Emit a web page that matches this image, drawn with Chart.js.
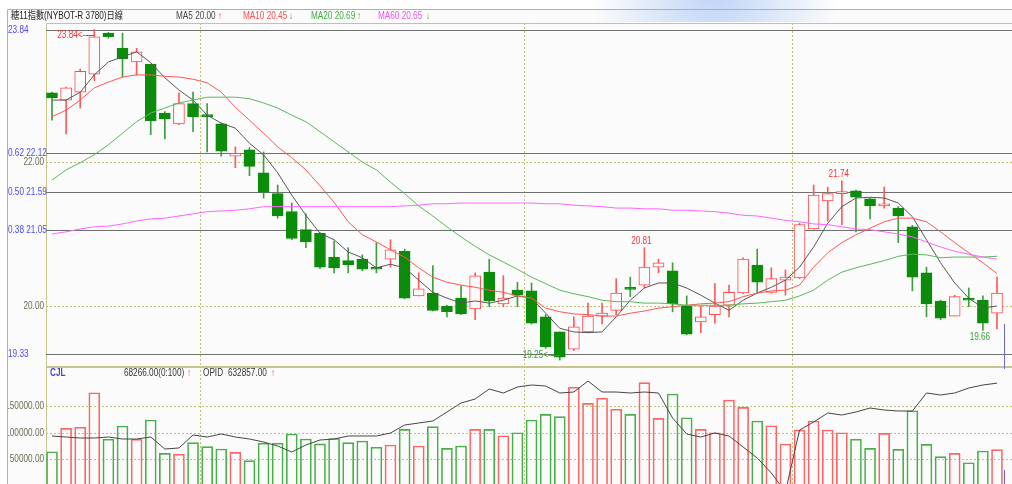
<!DOCTYPE html>
<html>
<head>
<meta charset="utf-8">
<script src="https://cdn.jsdelivr.net/npm/chart.js@4.4.1/dist/chart.umd.min.js"></script>
<style>
  html, body { margin: 0; padding: 0; background: #fff; }
  #wrap { position: relative; width: 1012px; height: 484px; overflow: hidden; background: #fff;
    font-family: "Liberation Sans", "Noto Sans CJK TC", sans-serif; }
  canvas { position: absolute; left: 0; }
  #price { top: 0; }
  #vol { top: 366px; }
  .t { position: absolute; z-index: 2; font-size: 10px; line-height: 12px; white-space: nowrap; color: #333;
    transform: scaleX(0.82); transform-origin: 0 50%; }
  .up { color: #f03030; }
  .dn { color: #4a9a4a; }
</style>
</head>
<body>
<div id="wrap">
  <canvas id="price" width="1012" height="366"></canvas>
  <canvas id="vol" width="1012" height="120"></canvas>

  <div class="t" id="title" style="left:11px;top:10px;color:#222"></div>
  <div class="t" id="hMa5" style="left:176px;top:10px;color:#444"></div>
  <div class="t up" style="left:218px;top:10px">↑</div>
  <div class="t" id="hMa10" style="left:243px;top:10px;color:#ff4c4c"></div>
  <div class="t dn" style="left:289px;top:10px">↓</div>
  <div class="t" id="hMa20" style="left:311px;top:10px;color:#3eae3e"></div>
  <div class="t up" style="left:357px;top:10px">↑</div>
  <div class="t" id="hMa60" style="left:378px;top:10px;color:#f050f0"></div>
  <div class="t dn" style="left:426px;top:10px">↓</div>

  <div class="t" style="left:50px;top:367px;color:#4848c8;font-weight:bold">CJL</div>
  <div class="t" id="hVol" style="left:124px;top:367px"></div>
  <div class="t up" style="left:187px;top:367px">↑</div>
  <div class="t" style="left:203px;top:367px">OPID</div>
  <div class="t" id="hOi" style="left:228px;top:367px"></div>
  <div class="t up" style="left:271px;top:367px">↑</div>
</div>
<script>
// daily bars, sugar No.11
const open = [22.96,22.86,22.97,23.22,23.79,23.58,23.39,23.36,22.68,22.53,
  22.81,22.65,22.53,22.08,22.17,21.85,21.56,21.31,21.06,21.01,
  20.68,20.63,20.65,20.53,20.65,20.76,20.14,20.18,20.00,20.11,
  19.96,20.47,20.03,20.22,20.21,19.85,19.64,19.40,19.64,19.86,
  19.94,20.24,20.29,20.54,20.49,20.00,19.78,19.88,20.01,20.18,
  20.57,20.19,20.36,20.39,21.07,21.46,21.56,21.60,21.49,21.39,
  21.36,21.10,20.46,20.07,19.86,20.11,20.08,19.90];
const high = [22.97,23.04,23.29,23.84,23.80,23.79,23.58,23.36,22.70,22.96,
  22.97,22.81,22.54,22.21,22.20,22.14,21.68,21.43,21.28,21.02,
  20.90,20.81,20.71,20.88,20.92,20.79,20.46,20.56,20.01,20.28,
  20.46,20.65,20.42,20.33,20.32,19.88,19.64,19.85,20.04,20.04,
  20.38,20.40,20.81,20.65,20.60,20.14,20.00,20.31,20.29,20.67,
  20.79,20.53,20.50,21.15,21.68,21.65,21.74,21.61,21.50,21.65,
  21.38,21.12,20.54,20.08,20.15,20.25,20.14,20.40];
const low = [22.58,22.39,22.75,23.13,23.72,23.18,23.21,22.38,22.32,22.52,
  22.42,22.14,22.08,21.92,21.81,21.50,21.22,20.92,20.81,20.52,
  20.46,20.46,20.49,20.46,20.54,20.10,20.14,19.93,19.85,19.88,
  19.81,19.99,19.99,19.99,19.75,19.41,19.25,19.38,19.63,19.75,
  19.88,20.13,20.25,20.46,19.92,19.60,19.63,19.76,19.85,20.17,
  20.18,20.18,20.15,20.38,21.07,21.18,21.13,21.03,21.21,21.36,
  20.88,20.21,19.85,19.81,19.86,19.99,19.66,19.68];
const close = [22.89,23.03,23.26,23.74,23.74,23.43,23.53,22.57,22.60,22.81,
  22.63,22.63,22.15,22.12,21.94,21.58,21.25,20.94,20.89,20.54,
  20.53,20.57,20.51,20.51,20.78,20.11,20.24,19.94,19.92,19.89,
  20.42,20.07,20.11,20.15,19.76,19.43,19.29,19.71,19.86,19.90,
  20.18,20.23,20.54,20.60,20.03,19.61,19.85,20.00,20.19,20.65,
  20.33,20.38,20.40,21.13,21.54,21.56,21.58,21.51,21.39,21.42,
  21.25,20.40,20.03,19.83,20.13,20.08,19.76,20.18];

const ma5 = [22.86,22.86,22.97,23.21,23.39,23.46,23.53,23.38,23.17,23.00,
  22.86,22.65,22.54,22.47,22.26,22.10,21.85,21.54,21.26,21.01,
  20.92,20.75,20.67,20.53,20.58,20.53,20.36,20.19,20.11,20.04,
  20.07,20.04,20.08,20.14,20.11,19.90,19.69,19.64,19.63,19.64,
  19.85,20.08,20.25,20.32,20.32,20.25,20.15,20.04,19.94,20.08,
  20.18,20.26,20.36,20.54,20.82,21.15,21.38,21.50,21.51,21.50,
  21.43,21.24,20.92,20.60,20.32,20.11,19.97,20.00];
const ma10 = [22.63,22.72,22.86,23.03,23.11,23.18,23.21,23.21,23.19,23.18,
  23.15,23.10,22.97,22.76,22.58,22.40,22.21,22.06,21.89,21.67,
  21.44,21.17,20.99,20.89,20.78,20.68,20.53,20.40,20.33,20.29,
  20.26,20.22,20.19,20.14,20.11,19.97,19.92,19.89,19.88,19.86,
  19.86,19.90,19.93,19.97,19.99,20.01,20.03,20.04,20.06,20.13,
  20.18,20.21,20.22,20.29,20.54,20.74,20.88,20.99,21.08,21.17,
  21.22,21.22,21.17,21.03,20.88,20.74,20.60,20.45];
const ma20 = [21.75,21.89,21.99,22.10,22.24,22.40,22.56,22.68,22.75,22.82,
  22.86,22.90,22.90,22.90,22.88,22.82,22.75,22.65,22.56,22.42,
  22.28,22.14,22.00,21.89,21.72,21.56,21.39,21.25,21.10,20.96,
  20.83,20.71,20.61,20.51,20.40,20.31,20.22,20.17,20.13,20.08,
  20.06,20.06,20.04,20.04,20.03,20.01,20.01,20.01,20.01,20.03,
  20.04,20.06,20.08,20.14,20.22,20.36,20.47,20.53,20.58,20.63,
  20.69,20.72,20.71,20.67,20.68,20.68,20.68,20.69];
const ma60 = [21.00,21.03,21.07,21.10,21.11,21.14,21.18,21.21,21.22,21.25,
  21.28,21.31,21.32,21.33,21.35,21.38,21.38,21.38,21.38,21.38,
  21.38,21.38,21.38,21.38,21.38,21.39,21.40,21.42,21.42,21.43,
  21.43,21.43,21.43,21.43,21.43,21.42,21.42,21.40,21.39,21.38,
  21.36,21.36,21.35,21.35,21.33,21.33,21.32,21.31,21.29,21.26,
  21.25,21.22,21.19,21.17,21.14,21.13,21.10,21.07,21.06,21.03,
  21.00,20.96,20.89,20.82,20.76,20.72,20.68,20.65];

const volume = [64200,108000,110000,174700,87500,112400,87500,123600,61200,59400,
  81100,73600,69300,63100,47400,80000,80000,97400,88000,79000,
  89000,81100,84300,72500,76800,106200,74900,111100,70600,74900,
  106200,106200,94200,99800,123600,134300,129800,184900,154900,164300,
  143700,134300,193500,126800,172300,127900,106200,99800,161100,147400,
  121700,112900,78700,104900,121700,104900,99800,87500,70600,98700,
  68700,141000,78100,54900,61200,43600,65600,68266];
const openInterest = [580000,579000,578000,578000,579000,577000,577000,579000,567000,568000,
  581000,579000,582000,579000,577000,574000,570000,564000,571000,576000,
  577000,580000,580000,580000,583000,591000,593000,595000,604000,613000,
  617000,627000,623000,629000,631000,630000,623000,624000,635000,624000,
  624000,623000,624000,623000,598000,582000,579000,583000,580000,569000,
  558000,543000,524000,586000,594000,603000,601000,604000,608000,606000,
  605000,605000,623000,621000,623000,628000,631000,632857];

const fibLevels = [23.84, 22.12, 21.59, 21.05, 19.33];
const fibRatios = ['', '0.62', '0.50', '0.38', ''];
const priceTicks = [22, 20];
const volumeTicks = [50000, 100000, 150000];
const monthBreaks = [11.5, 34.5, 53.5];

const TITLE = '糖11指數(NYBOT-R 3780)日線';

const RED = '#ff4848';
const GREEN = '#0b8c0b';
const OLIVE = '#c6c68c';
const DOT = '#c0c07a';
const LABEL_FONT = '10px "Liberation Sans", sans-serif';
const NARROW = 0.82;

const n = close.length;
const idx = [...Array(n).keys()];
const isUp = (i) => close[i] >= open[i];
const pts = (arr) => arr.map((v, i) => ({ x: i + 1, y: v }));

document.getElementById('title').textContent = TITLE;
document.getElementById('hMa5').textContent = 'MA5 ' + ma5[n - 1].toFixed(2);
document.getElementById('hMa10').textContent = 'MA10 ' + ma10[n - 1].toFixed(2);
document.getElementById('hMa20').textContent = 'MA20 ' + ma20[n - 1].toFixed(2);
document.getElementById('hMa60').textContent = 'MA60 ' + ma60[n - 1].toFixed(2);
document.getElementById('hVol').textContent = volume[n - 1].toFixed(2) + '(0:100)';
document.getElementById('hOi').textContent = openInterest[n - 1].toFixed(2);

const X_SCALE = { type: 'linear', display: false, offset: false, min: 0.5746, max: 69.0635 };

function dotted(ctx, x1, y1, x2, y2) {
	ctx.save();
	ctx.strokeStyle = DOT;
	ctx.lineWidth = 1;
	ctx.setLineDash([2, 2]);
	ctx.beginPath();
	ctx.moveTo(x1, y1);
	ctx.lineTo(x2, y2);
	ctx.stroke();
	ctx.restore();
}

// condensed label, like the terminal's narrow font
function narrowText(ctx, text, x, y, align) {
	ctx.save();
	ctx.translate(x, y);
	ctx.scale(NARROW, 1);
	ctx.textAlign = align;
	ctx.textBaseline = "middle";
	ctx.fillText(text, 0, 0);
	ctx.restore();
}

function panelBackground(chart, topY) {
	const { ctx, chartArea: a, scales: { x } } = chart;
	const W = chart.width, H = chart.height;
	ctx.fillStyle = '#ffffff';
	ctx.fillRect(0, 0, W, H);
	ctx.fillStyle = '#fbfbfb';
	ctx.fillRect(8, topY, W - 8, H - topY);
	ctx.strokeStyle = '#a9aec2';
	ctx.lineWidth = 1;
	ctx.beginPath();
	ctx.moveTo(7.5, H);
	ctx.lineTo(7.5, topY);
	ctx.stroke();
	monthBreaks.forEach((v) => {
		const px = Math.round(x.getPixelForValue(v)) + 0.5;
		dotted(ctx, px, a.top, px, a.bottom);
	});
}

// price panel: frame, grid, fibonacci levels, labels
const pricePanel = {
	id: "pricePanel",
	beforeDatasetsDraw(chart) {
		const { ctx, chartArea: a, scales: { y } } = chart;
		ctx.save();
		panelBackground(chart, 10);

		// faint blue logo blob at the top
		const g = ctx.createRadialGradient(715, -10, 10, 715, -10, 125);
		g.addColorStop(0, "rgba(185,208,245,0.85)");
		g.addColorStop(1, "rgba(185,208,245,0)");
		ctx.fillStyle = g;
		ctx.fillRect(560, 0, 320, 22);

		ctx.strokeStyle = "#a9aec2";
		ctx.beginPath();
		ctx.moveTo(7.5, 9.5);
		ctx.lineTo(chart.width, 9.5);
		ctx.stroke();

		ctx.strokeStyle = OLIVE;
		ctx.beginPath();
		ctx.moveTo(a.left + 0.5, a.bottom);
		ctx.lineTo(a.left + 0.5, a.top + 0.5);
		ctx.lineTo(a.right, a.top + 0.5);
		ctx.stroke();

		priceTicks.forEach((v) => {
			const py = Math.round(y.getPixelForValue(v)) + 0.5;
			dotted(ctx, a.left, py, a.right, py);
		});

		ctx.strokeStyle = "#707070";
		ctx.lineWidth = 1;
		fibLevels.forEach((v) => {
			const py = Math.round(y.getPixelForValue(v)) + 0.5;
			ctx.beginPath();
			ctx.moveTo(a.left, py);
			ctx.lineTo(a.right, py);
			ctx.stroke();
		});

		ctx.font = LABEL_FONT;
		ctx.fillStyle = "#4b4bf0";
		fibLevels.forEach((v, k) => {
			const label = (fibRatios[k] ? fibRatios[k] + " " : "") + v.toFixed(2);
			narrowText(ctx, label, 8, Math.round(y.getPixelForValue(v)), "left");
		});
		ctx.fillStyle = "#6a6a55";
		priceTicks.forEach((v) => {
			narrowText(ctx, v.toFixed(2), 44, Math.round(y.getPixelForValue(v)), "right");
		});
		ctx.restore();
	},
	afterDatasetsDraw(chart) {
		const { ctx, chartArea: a, scales: { x, y } } = chart;
		ctx.save();
		ctx.font = LABEL_FONT;

		// highest high / lowest low with a pointer
		const hiIdx = high.indexOf(Math.max(...high));
		const loIdx = low.indexOf(Math.min(...low));
		[
			{ i: hiIdx, v: high[hiIdx], dy: 5, color: "#ff3030" },
			{ i: loIdx, v: low[loIdx], dy: -5, color: "#3a9a3a" },
		].forEach((m) => {
			const px = x.getPixelForValue(m.i + 1);
			const py = Math.round(y.getPixelForValue(m.v)) + m.dy;
			ctx.fillStyle = m.color;
			ctx.strokeStyle = m.color;
			narrowText(ctx, m.v.toFixed(2) + "<-", px - 9, py, "right");
			ctx.beginPath();
			ctx.moveTo(px - 9, py + 0.5);
			ctx.lineTo(px, py + 0.5);
			ctx.stroke();
		});

		// local turning points
		[
			{ i: 42, v: high[42], dy: -7, color: "#ff3030" },
			{ i: 56, v: high[56], dy: -7, color: "#ff3030" },
			{ i: 66, v: low[66], dy: 7, color: "#3a9a3a" },
		].forEach((m) => {
			ctx.fillStyle = m.color;
			narrowText(ctx, m.v.toFixed(2), x.getPixelForValue(m.i + 1) - 3, Math.round(y.getPixelForValue(m.v)) + m.dy, "center");
		});

		// cursor
		const cx = Math.round(x.getPixelForValue(n + 0.5)) + 0.5;
		ctx.strokeStyle = "#6868d8";
		ctx.beginPath();
		ctx.moveTo(cx, y.getPixelForValue(19.75));
		ctx.lineTo(cx, a.bottom);
		ctx.stroke();
		ctx.restore();
	},
};

// volume panel: frame, grid, labels
const volumePanel = {
	id: "volumePanel",
	beforeDatasetsDraw(chart) {
		const { ctx, chartArea: a, scales: { y } } = chart;
		ctx.save();
		panelBackground(chart, 0);
		ctx.strokeStyle = OLIVE;
		ctx.lineWidth = 2;
		ctx.beginPath();
		ctx.moveTo(a.left, 1);
		ctx.lineTo(a.right, 1);
		ctx.stroke();
		ctx.lineWidth = 1;
		ctx.beginPath();
		ctx.moveTo(a.left + 0.5, 0);
		ctx.lineTo(a.left + 0.5, a.bottom);
		ctx.stroke();

		ctx.font = LABEL_FONT;
		ctx.fillStyle = "#6a6a55";
		volumeTicks.forEach((v) => {
			const py = Math.round(y.getPixelForValue(v)) + 0.5;
			dotted(ctx, a.left, py, a.right, py);
			narrowText(ctx, v.toFixed(2), 44, py, "right");
		});
		// clip the label column at the outer frame
		ctx.fillStyle = "#ffffff";
		ctx.fillRect(0, 0, 7, chart.height);
		ctx.strokeStyle = "#a9aec2";
		ctx.beginPath();
		ctx.moveTo(7.5, 0);
		ctx.lineTo(7.5, chart.height);
		ctx.stroke();
		ctx.restore();
	},
	afterDatasetsDraw(chart) {
		const { ctx, chartArea: a, scales: { x } } = chart;
		const cx = Math.round(x.getPixelForValue(n + 0.5)) + 0.5;
		ctx.save();
		ctx.strokeStyle = "#6868d8";
		ctx.beginPath();
		ctx.moveTo(cx, 0);
		ctx.lineTo(cx, 3);
		ctx.moveTo(cx, 104);
		ctx.lineTo(cx, a.bottom);
		ctx.stroke();
		ctx.restore();
	},
};

const maLine = (label, data, color) => ({
	type: "line",
	label,
	data: pts(data),
	borderColor: color,
	borderWidth: 1,
	pointRadius: 0,
	tension: 0,
	order: 1,
});

new Chart(document.getElementById("price"), {
	type: "bar",
	data: {
		datasets: [
			{
				label: "wick",
				data: idx.map((i) => ({ x: i + 1, y: [low[i], high[i]] })),
				backgroundColor: idx.map((i) => (isUp(i) ? "#ff5a5a" : "#3e9e3e")),
				barThickness: 1,
				borderWidth: 0,
				grouped: false,
				order: 5,
			},
			{
				label: "body",
				data: idx.map((i) => ({ x: i + 1, y: [open[i], close[i]] })),
				backgroundColor: idx.map((i) => (isUp(i) ? "#fbfbfb" : GREEN)),
				borderColor: idx.map((i) => (isUp(i) ? RED : GREEN)),
				borderWidth: 1,
				borderSkipped: false,
				barThickness: 11,
				minBarLength: 2,
				grouped: false,
				order: 4,
			},
			maLine("MA60", ma60, "#ff66ff"),
			maLine("MA20", ma20, "#5cb85c"),
			maLine("MA10", ma10, "#ff5656"),
			maLine("MA5", ma5, "#585858"),
		],
	},
	options: {
		responsive: false,
		animation: false,
		devicePixelRatio: 1,
		events: [],
		layout: { padding: { left: 46, right: 0, top: 23, bottom: 0 } },
		plugins: { legend: { display: false }, tooltip: { enabled: false } },
		scales: {
			x: X_SCALE,
			y: { type: "linear", display: false, min: 19.1667, max: 23.9306 },
		},
	},
	plugins: [pricePanel],
});

new Chart(document.getElementById("vol"), {
	type: "bar",
	data: {
		datasets: [
			{
				label: "CJL",
				data: pts(volume),
				backgroundColor: "rgba(0,0,0,0)",
				borderColor: idx.map((i) => (isUp(i) ? "#ff6464" : "#48b048")),
				borderWidth: 1,
				borderSkipped: false,
				barThickness: 11,
				grouped: false,
				yAxisID: "y",
				order: 2,
			},
			{
				type: "line",
				label: "OPID",
				data: pts(openInterest),
				borderColor: "#474747",
				borderWidth: 1,
				pointRadius: 0,
				tension: 0,
				yAxisID: "oi",
				order: 1,
			},
		],
	},
	options: {
		responsive: false,
		animation: false,
		devicePixelRatio: 1,
		events: [],
		layout: { padding: { left: 46, right: 0, top: 0, bottom: 0 } },
		plugins: { legend: { display: false }, tooltip: { enabled: false } },
		scales: {
			x: X_SCALE,
			y: { type: "linear", display: false, min: 0, max: 224760 },
			oi: { type: "linear", display: false, min: 530000, max: 650000 },
		},
	},
	plugins: [volumePanel],
});
</script>
</body>
</html>
